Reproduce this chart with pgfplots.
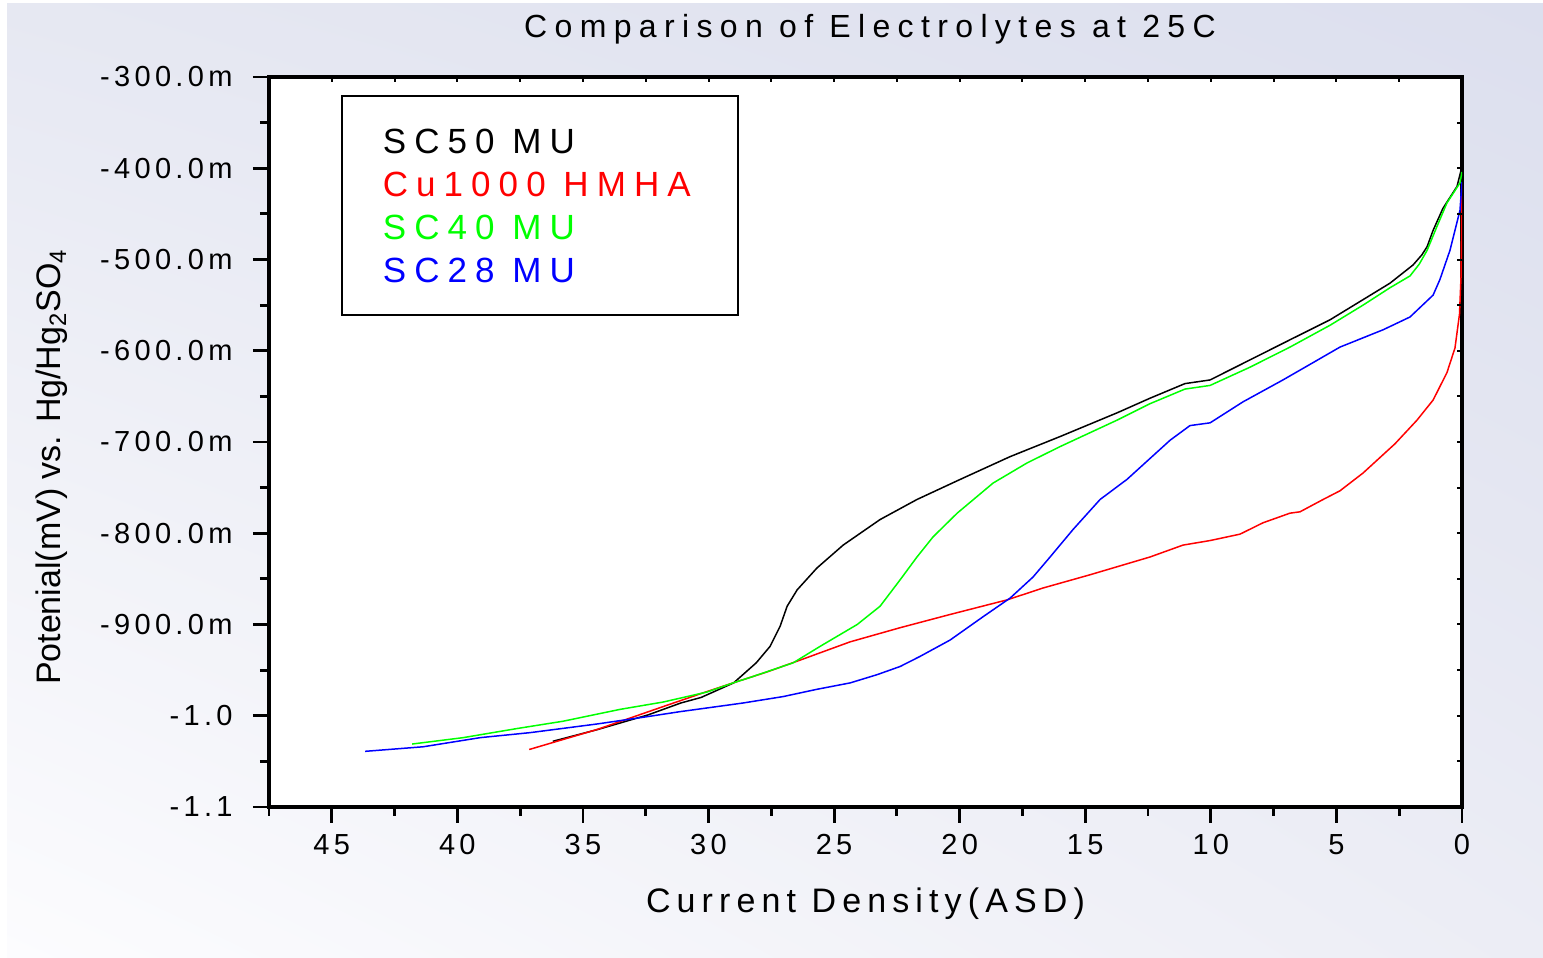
\documentclass[border=0pt]{standalone}
\usepackage{fontspec}
\usepackage{pgfplots}
\pgfplotsset{compat=1.18}
\usetikzlibrary{shadings}
\setmainfont{Liberation Sans}
\newfontfamily\tickfont[LetterSpace=15]{Liberation Sans}
\newfontfamily\titlefont[LetterSpace=23]{Liberation Sans}
\newfontfamily\xlabfont[LetterSpace=18]{Liberation Sans}
\newfontfamily\legfont[LetterSpace=23]{Liberation Sans}
\definecolor{bgUL}{RGB}{230,232,242}
\definecolor{bgUR}{RGB}{220,223,238}
\definecolor{bgLL}{RGB}{252,252,254}
\definecolor{bgLR}{RGB}{236,237,245}
\definecolor{cblack}{RGB}{0,0,0}
\definecolor{cred}{RGB}{255,0,0}
\definecolor{cgreen}{RGB}{0,255,0}
\definecolor{cblue}{RGB}{0,0,255}

\pgfplotstableread{
x y
36.2 -1028
34.4 -1015
32.4 -999
31.1 -986
30.3 -980
29.0 -964
28.1 -942
27.55 -924
27.15 -902
26.87 -880
26.47 -862
25.68 -838
24.64 -813
23.17 -785
21.70 -763
19.98 -741
17.99 -716
16.00 -694
13.73 -668
12.42 -652
11.03 -636
10.03 -632
8.44 -610
6.85 -588
5.25 -566
3.94 -544
2.87 -526
1.95 -506
1.60 -495
1.39 -486
1.15 -468
0.76 -444
0.20 -420
0.0 -398
}\tblack

\pgfplotstableread{
x y
37.14 -1037
34.43 -1015
31.81 -990
30.33 -976
29.02 -964
27.67 -952
26.35 -939
24.36 -919
22.37 -903.5
20.38 -889
18.11 -873
16.68 -860
14.81 -845.5
12.42 -826
11.11 -813
10.03 -808
8.84 -801
7.92 -788.5
6.85 -778
6.45 -776.5
5.53 -763
4.86 -753.5
3.94 -734
2.67 -702
1.79 -676
1.15 -654
0.60 -624
0.28 -597
0.10 -560
0.04 -520
0.02 -480
0.0 -416
}\tred

\pgfplotstableread{
x y
41.8 -1031
39.77 -1024
37.62 -1014
35.79 -1006
33.52 -993
31.81 -985
30.06 -974
29.02 -964
28.34 -958
26.63 -942
25.56 -924
24.08 -900
23.17 -880
22.37 -851
21.70 -826
21.06 -804
20.10 -778
18.67 -745
17.32 -723
16.00 -705
13.73 -676
12.42 -658
11.03 -642
10.03 -638
8.44 -618
6.85 -596
5.25 -572
3.94 -550
2.87 -531
2.07 -518
1.70 -505
1.39 -490
1.00 -464
0.60 -438
0.08 -416
0.0 -404
}\tgreen

\pgfplotstableread{
x y
43.67 -1039
41.36 -1034
39.09 -1024
37.10 -1018.5
34.43 -1009
32.44 -1001
31.13 -995.5
29.14 -988
28.62 -986
27.03 -979
25.68 -971
24.36 -964
23.29 -955
22.37 -946
21.58 -935
20.38 -917
19.07 -891.5
17.99 -871
17.08 -848
16.40 -826
15.49 -796
14.41 -763
13.34 -741
11.62 -698
10.83 -682
10.03 -679
8.72 -656
7.13 -632
5.93 -613
4.86 -596
3.14 -577
2.07 -563
1.15 -539
0.88 -522
0.48 -490
0.08 -446
0.0 -415
}\tblue

\begin{document}
\begin{tikzpicture}
\fill[white] (0,0) rectangle (771.5pt,479pt);
\shade[upper left=bgUL, upper right=bgUR, lower left=bgLL, lower right=bgLR] (3.5pt,0) rectangle (771.5pt,477pt);
\begin{axis}[
  at={(134.5pt,75.5pt)}, anchor=south west,
  scale only axis, width=596.5pt, height=365pt,
  x dir=reverse, xmin=0, xmax=47.5, ymin=-1100, ymax=-300,
  xtick={0,5,...,45}, xticklabels={0,5,10,15,20,25,30,35,40,45},
  minor xtick={2.5,7.5,...,47.5},
  ytick={-1100,-1000,...,-300},
  yticklabels={-1.1,-1.0,-900.0m,-800.0m,-700.0m,-600.0m,-500.0m,-400.0m,-300.0m},
  minor ytick={-1050,-950,...,-350},
  xtick pos=left, ytick pos=left, tick align=outside,
  major tick length=8pt, minor tick length=4.5pt,
  tick style={line width=1.4pt, black},
  axis line style={line width=1.6pt},
  axis background/.style={fill=white},
  ticklabel style={font=\tickfont\fontsize{14.5}{16}\selectfont},
  xticklabel style={anchor=base, inner sep=0pt, yshift=-16pt},
  yticklabel style={anchor=east, inner sep=0pt, xshift=-10pt},
  title={Comparison of Electrolytes at 25C},
  title style={font=\titlefont\fontsize{16}{19}\selectfont, at={(0.5,1)}, anchor=base, yshift=14pt, xshift=2.25pt},
  xlabel={Current Density(ASD)},
  xlabel style={font=\xlabfont\fontsize{17}{20}\selectfont, at={(0.5,0)}, anchor=base, yshift=-53pt},
  ylabel={Potenial(mV) vs. Hg/Hg\textsubscript{2}SO\textsubscript{4}},
  ylabel style={font=\fontsize{17}{20}\selectfont, at={(-0.1744,0.4658)}, anchor=base},
  legend image code/.code={},
  legend cell align=left,
  legend style={at={(0.0603,0.9753)}, anchor=north west, draw=black, line width=1pt, fill=white,
    font=\legfont\fontsize{17.5}{21}\selectfont, inner xsep=20.5pt, inner ysep=16pt, row sep=9pt,
    nodes={inner sep=0pt, text height=12.6pt, text depth=0pt}},
]
\addplot[cblack, line width=0.75pt, no markers] table {\tblack};
\addlegendentry{\textcolor{cblack}{SC50 MU}}
\addplot[cred, line width=0.75pt, no markers] table {\tred};
\addlegendentry{\textcolor{cred}{Cu1000 HMHA}\hspace*{3pt}}
\addplot[cgreen, line width=0.75pt, no markers] table {\tgreen};
\addlegendentry{\textcolor{cgreen}{SC40 MU}}
\addplot[cblue, line width=0.75pt, no markers] table {\tblue};
\addlegendentry{\textcolor{cblue}{SC28 MU}}
\end{axis}
\begin{axis}[
  at={(134.5pt,75.5pt)}, anchor=south west,
  scale only axis, width=596.5pt, height=365pt,
  x dir=reverse, xmin=0, xmax=47.5, ymin=-1100, ymax=-300,
  axis line style={draw=none},
  xtick={0,5,...,45}, minor xtick={2.5,7.5,...,47.5},
  ytick={-1100,-1000,...,-300}, minor ytick={-1050,-950,...,-350},
  xtick pos=right, ytick pos=right, tick align=inside,
  major tick length=2.5pt, minor tick length=2.5pt,
  tick style={line width=1pt, black},
  xticklabels={}, yticklabels={},
]
\end{axis}
\pgfresetboundingbox
\path[use as bounding box] (0,0) rectangle (771.5pt,479pt);
\end{tikzpicture}
\end{document}
